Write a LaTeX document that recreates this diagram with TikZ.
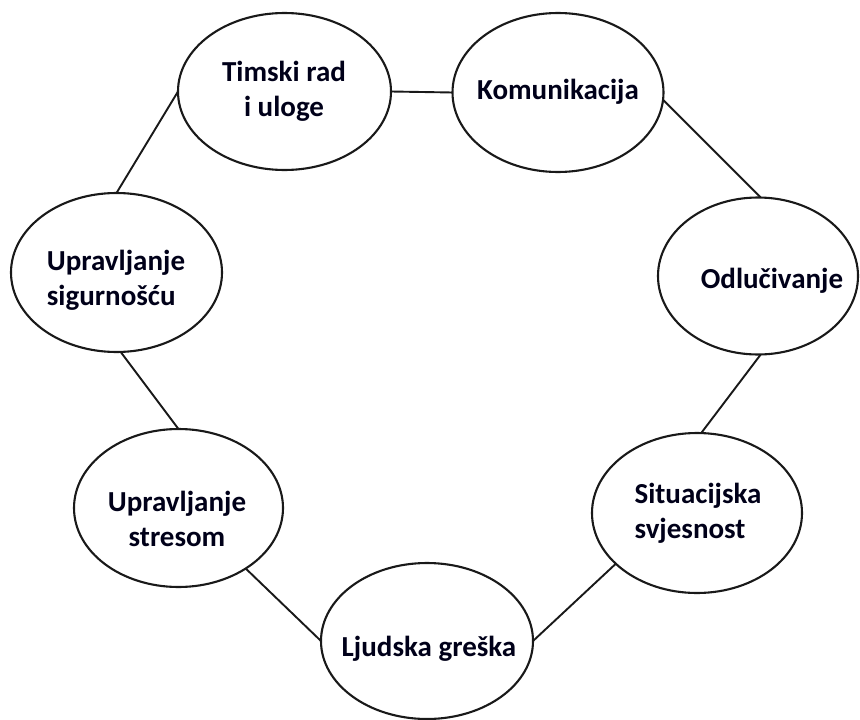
\documentclass[tikz,border=0pt]{standalone}
\usepackage{fontspec}
\setmainfont{Carlito}
\usetikzlibrary{shapes.geometric}
\begin{document}
\begin{tikzpicture}[x=1pt,y=-1pt,
  bubble/.style={draw=black!90,line width=2.1pt,ellipse,inner sep=0pt,outer sep=0pt},
  lbl/.style={font=\fontsize{29}{35}\selectfont\bfseries,text=black!90!blue,inner sep=0pt},
  link/.style={draw=black!90,line width=1.9pt}]
\useasboundingbox (0,0) rectangle (860,720);
\fill[white] (0,0) rectangle (860,720);
% ellipses
\node[bubble,minimum width=213pt,minimum height=157pt] (t)  at (284.5,91.5) {};
\node[bubble,minimum width=211pt,minimum height=159pt] (k)  at (558,92.5) {};
\node[bubble,minimum width=200pt,minimum height=157pt] (o)  at (758,276) {};
\node[bubble,minimum width=210pt,minimum height=160pt] (s)  at (697,513) {};
\node[bubble,minimum width=212pt,minimum height=156pt] (l)  at (427,641) {};
\node[bubble,minimum width=209pt,minimum height=158pt] (st) at (178.5,508) {};
\node[bubble,minimum width=211pt,minimum height=159pt] (sg) at (116.5,272.5) {};
% labels
\node[lbl,align=center] (tl)  at (284,91) {Timski rad\\i uloge};
\node[lbl]              (kl)  at (558,92) {Komunikacija};
\node[lbl]              (ol)  at (772,281) {Odlučivanje};
\node[lbl,align=left]   (sl)  at (698,513) {Situacijska\\svjesnost};
\node[lbl]              (ll)  at (429,649) {Ljudska greška};
\node[lbl,align=center] (stl) at (177,519) {Upravljanje\\stresom};
\node[lbl,align=left]   (sgl) at (116,280) {Upravljanje\\sigurnošću};
% connectors
\draw[link] (t.east) -- (k.west);
\draw[link] (k.-4) -- (o.88);
\draw[link] (o.-88) -- (s.87);
\draw[link] (s.212) -- (l.east);
\draw[link] (l.west) -- (st.-42);
\draw[link] (st.north) -- (sg.-87);
\draw[link] (sg.north) -- (t.west);
\end{tikzpicture}
\end{document}
